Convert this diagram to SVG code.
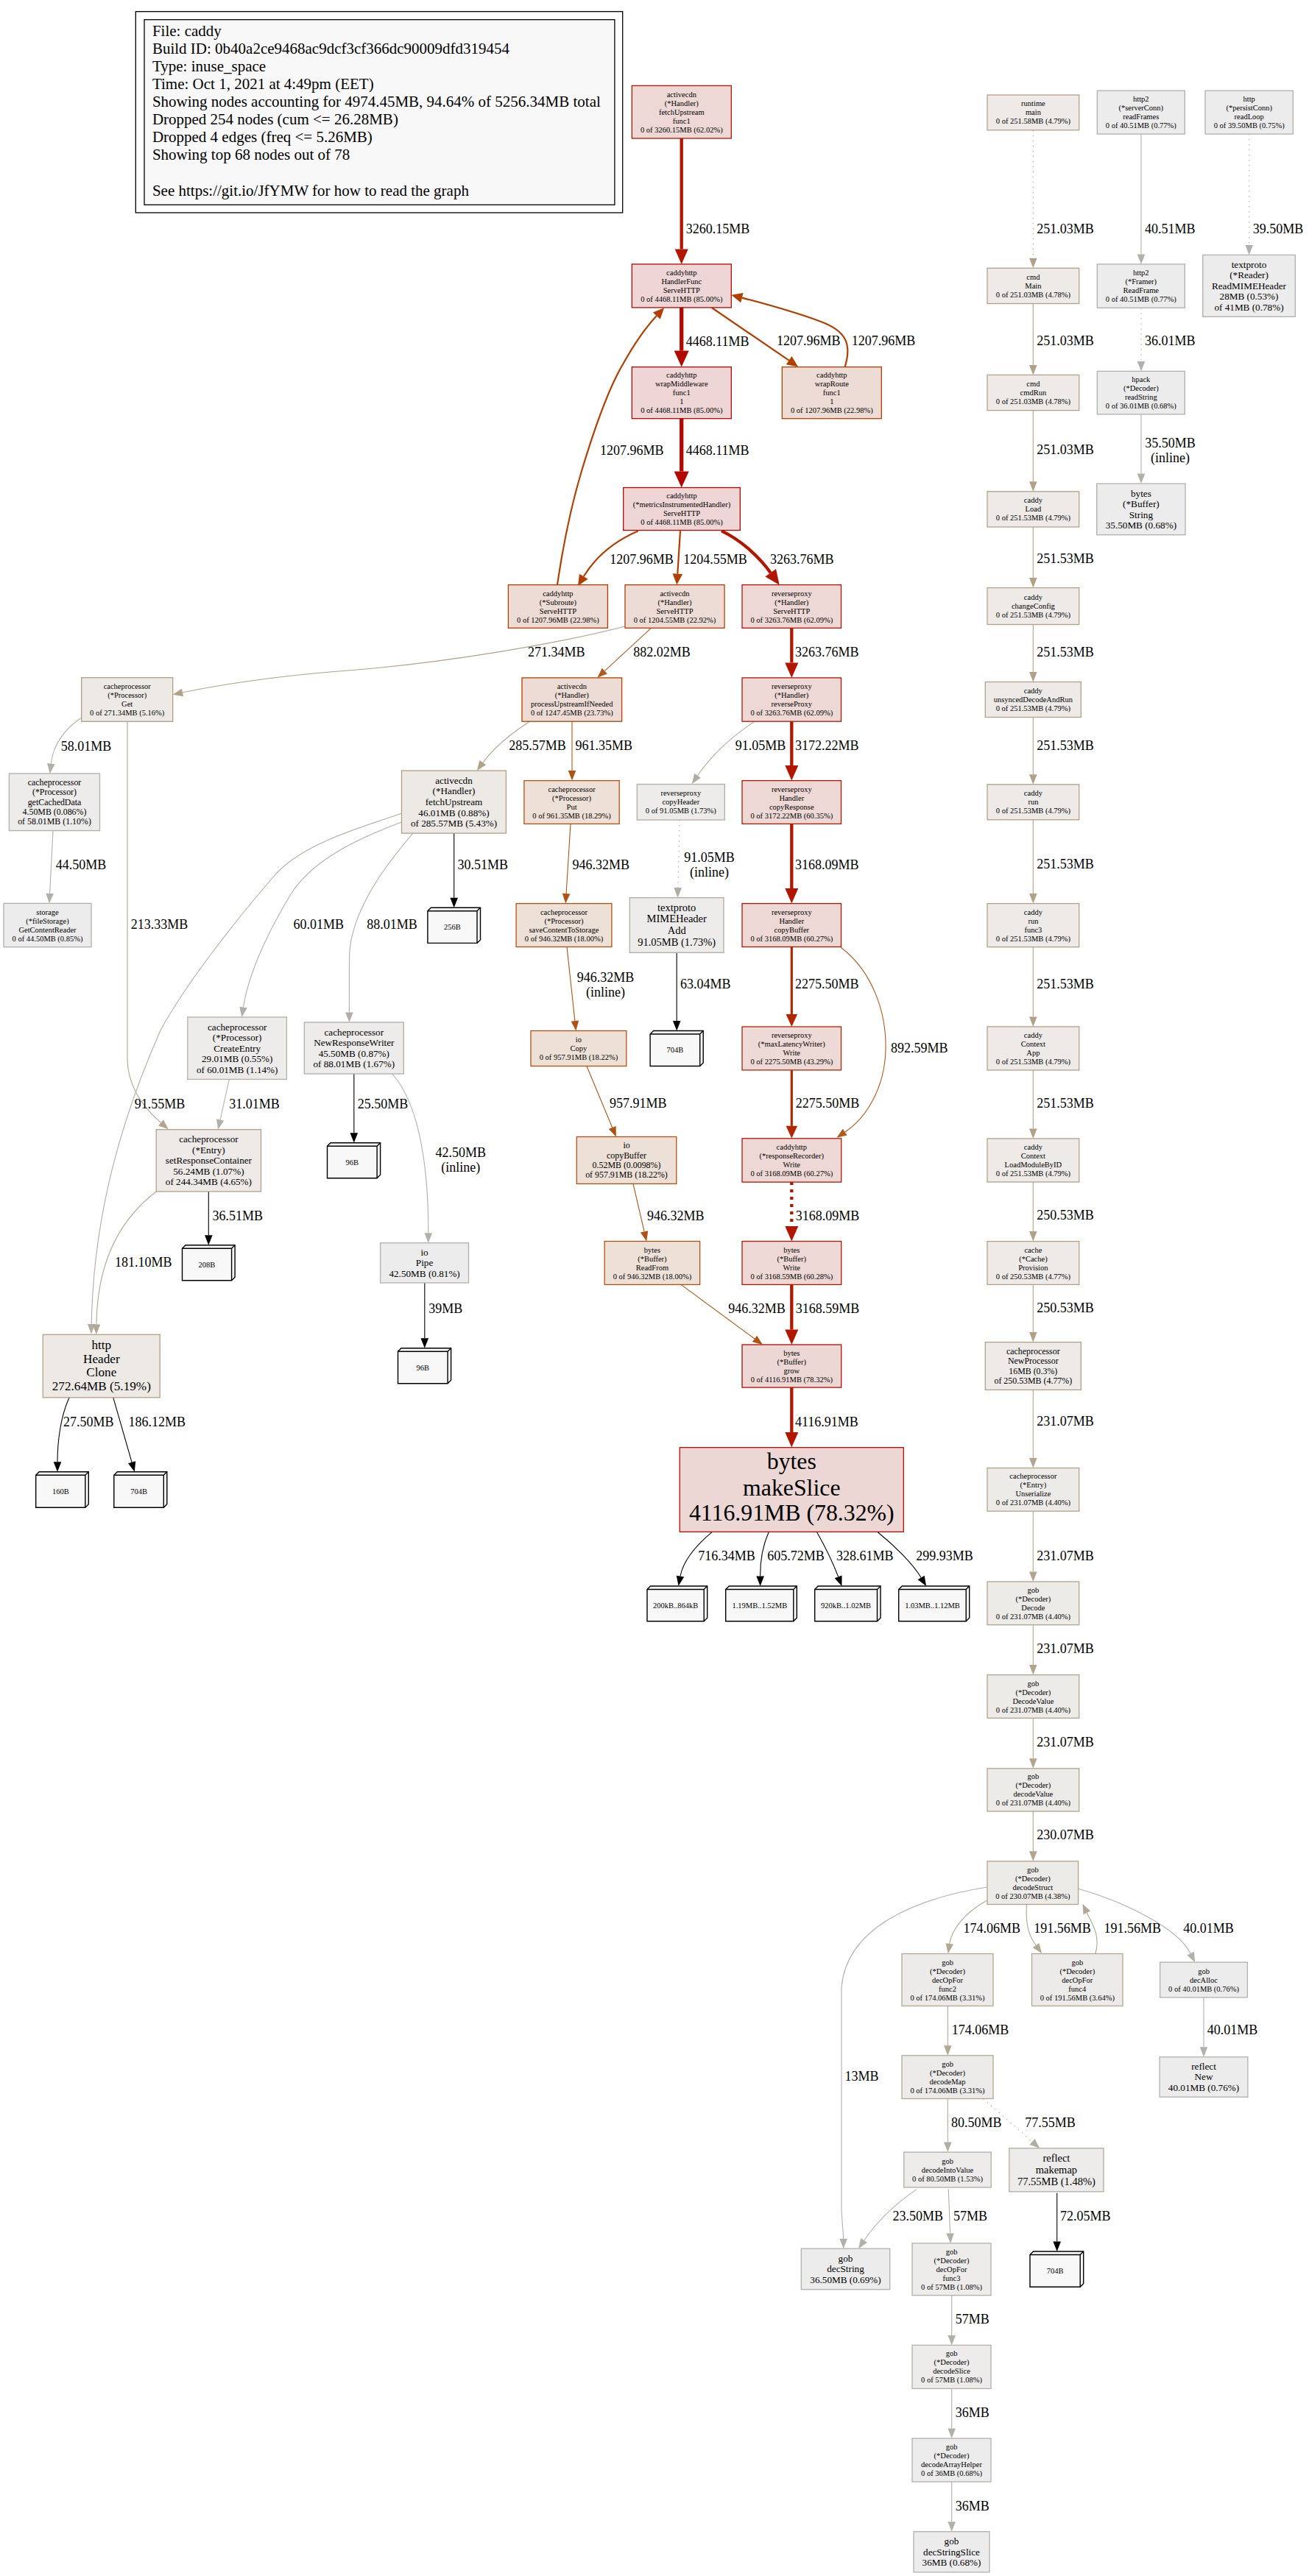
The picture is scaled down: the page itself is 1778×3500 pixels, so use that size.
<svg xmlns="http://www.w3.org/2000/svg" width="1778" height="3500" viewBox="0 0 1778 3500">
<style>
text{font-family:"Liberation Serif","Times New Roman",serif;fill:#000}
.node text{text-anchor:middle}
.t0{font-size:10.5px}.t1{font-size:11.9px}.t2{font-size:13.2px}.t3{font-size:14.5px}.t4{font-size:17.2px}.t5{font-size:31.8px}
.el{font-size:18px}.elm{font-size:18px;text-anchor:middle}.lg{font-size:21px}
rect{stroke-width:1.3}
.c85{fill:#edd6d5;stroke:#b20800}.c78{fill:#edd7d5;stroke:#b20c00}.c62{fill:#edd8d5;stroke:#b21700}
.c43{fill:#edd9d5;stroke:#b22700}.c23{fill:#eddcd5;stroke:#b23f00}.c18{fill:#ede0d7;stroke:#b25211}
.c5{fill:#edeae6;stroke:#b29f84}.c48{fill:#edeae7;stroke:#b2a187}.c44{fill:#edebe7;stroke:#b2a28a}
.c35{fill:#edebe9;stroke:#b2a794}.c17{fill:#edecea;stroke:#b2ada2}.c11{fill:#edeceb;stroke:#b2afa8}
.c07{fill:#edecec;stroke:#b2b0ab}
.leaf path{fill:#f8f8f8;stroke:#000;stroke-width:1.4}
.leaf path.in{fill:none}
.leaf text{font-size:10.5px}
#edges path{fill:none}
.r5{stroke:#b20800;stroke-width:5.3;marker-end:url(#mr5)}
.r4{stroke:#b21600;stroke-width:4.3;marker-end:url(#mr4)}
.r3{stroke:#b22700;stroke-width:3.2;marker-end:url(#mr3)}
.o2{stroke:#b23f00;stroke-width:2.2;marker-end:url(#mo2)}
.o1a{stroke:#b25211;stroke-width:1.1;marker-end:url(#mo1a)}
.o1b{stroke:#b25a1c;stroke-width:1.1;marker-end:url(#mo1b)}
.tA{stroke:#b2a087;stroke-width:1.1;marker-end:url(#mtA)}
.tB{stroke:#b2a48d;stroke-width:1.1;marker-end:url(#mtB)}
.tC{stroke:#b2a793;stroke-width:1.1;marker-end:url(#mtC)}
.gA{stroke:#b2ada3;stroke-width:1.1;marker-end:url(#mgA)}
.gB{stroke:#b2afa8;stroke-width:1.1;marker-end:url(#mgB)}
.gC{stroke:#b2b0ab;stroke-width:1.1;marker-end:url(#mgC)}
.k{stroke:#000;stroke-width:1.1;marker-end:url(#mk)}
.dot{stroke-dasharray:1.5 5.5}
.dotw{stroke-dasharray:4 6}
</style>
<defs>
<marker id="mr5" markerUnits="userSpaceOnUse" markerWidth="22" markerHeight="20" refX="0" refY="10" orient="auto" overflow="visible"><path d="M0,0L22,10L0,20z" fill="#b20800"/></marker>
<marker id="mr4" markerUnits="userSpaceOnUse" markerWidth="20.5" markerHeight="18" refX="0" refY="9" orient="auto" overflow="visible"><path d="M0,0L20.5,9L0,18z" fill="#b21600"/></marker>
<marker id="mr3" markerUnits="userSpaceOnUse" markerWidth="17" markerHeight="15.6" refX="0" refY="7.8" orient="auto" overflow="visible"><path d="M0,0L17,7.8L0,15.6z" fill="#b22700"/></marker>
<marker id="mo2" markerUnits="userSpaceOnUse" markerWidth="15" markerHeight="13.6" refX="0" refY="6.8" orient="auto" overflow="visible"><path d="M0,0L15,6.8L0,13.6z" fill="#b23f00"/></marker>
<marker id="mo1a" markerUnits="userSpaceOnUse" markerWidth="13.5" markerHeight="10.6" refX="0" refY="5.3" orient="auto" overflow="visible"><path d="M0,0L13.5,5.3L0,10.6z" fill="#b25211"/></marker>
<marker id="mo1b" markerUnits="userSpaceOnUse" markerWidth="13.5" markerHeight="10.6" refX="0" refY="5.3" orient="auto" overflow="visible"><path d="M0,0L13.5,5.3L0,10.6z" fill="#b25a1c"/></marker>
<marker id="mtA" markerUnits="userSpaceOnUse" markerWidth="13.5" markerHeight="10.6" refX="0" refY="5.3" orient="auto" overflow="visible"><path d="M0,0L13.5,5.3L0,10.6z" fill="#b2a087"/></marker>
<marker id="mtB" markerUnits="userSpaceOnUse" markerWidth="13.5" markerHeight="10.6" refX="0" refY="5.3" orient="auto" overflow="visible"><path d="M0,0L13.5,5.3L0,10.6z" fill="#b2a48d"/></marker>
<marker id="mtC" markerUnits="userSpaceOnUse" markerWidth="13.5" markerHeight="10.6" refX="0" refY="5.3" orient="auto" overflow="visible"><path d="M0,0L13.5,5.3L0,10.6z" fill="#b2a793"/></marker>
<marker id="mgA" markerUnits="userSpaceOnUse" markerWidth="13.5" markerHeight="10.6" refX="0" refY="5.3" orient="auto" overflow="visible"><path d="M0,0L13.5,5.3L0,10.6z" fill="#b2ada3"/></marker>
<marker id="mgB" markerUnits="userSpaceOnUse" markerWidth="13.5" markerHeight="10.6" refX="0" refY="5.3" orient="auto" overflow="visible"><path d="M0,0L13.5,5.3L0,10.6z" fill="#b2afa8"/></marker>
<marker id="mgC" markerUnits="userSpaceOnUse" markerWidth="13.5" markerHeight="10.6" refX="0" refY="5.3" orient="auto" overflow="visible"><path d="M0,0L13.5,5.3L0,10.6z" fill="#b2b0ab"/></marker>
<marker id="mk" markerUnits="userSpaceOnUse" markerWidth="13.5" markerHeight="10.6" refX="0" refY="5.3" orient="auto" overflow="visible"><path d="M0,0L13.5,5.3L0,10.6z" fill="#000"/></marker>
</defs>
<rect width="1778" height="3500" fill="#fff" stroke="none"/>

<g id="legend">
<rect x="184.3" y="15.7" width="661.4" height="273.3" fill="#fff" stroke="#000" stroke-width="1.3"/>
<rect x="196" y="26.7" width="638.9" height="251.6" fill="#f8f8f8" stroke="#000" stroke-width="1.3"/>
<text class="lg" x="206.9" y="48.5">File: caddy</text>
<text class="lg" x="206.9" y="72.5">Build ID: 0b40a2ce9468ac9dcf3cf366dc90009dfd319454</text>
<text class="lg" x="206.9" y="96.6">Type: inuse_space</text>
<text class="lg" x="206.9" y="120.6">Time: Oct 1, 2021 at 4:49pm (EET)</text>
<text class="lg" x="206.9" y="144.7">Showing nodes accounting for 4974.45MB, 94.64% of 5256.34MB total</text>
<text class="lg" x="206.9" y="168.7">Dropped 254 nodes (cum &lt;= 26.28MB)</text>
<text class="lg" x="206.9" y="192.8">Dropped 4 edges (freq &lt;= 5.26MB)</text>
<text class="lg" x="206.9" y="216.8">Showing top 68 nodes out of 78</text>
<text class="lg" x="206.9" y="265.5">See https://git.io/JfYMW for how to read the graph</text>
</g>

<g id="edges">
<path class="r4" d="M925.7,188L925.7,338.4"/>
<path class="r5" d="M925.7,417.9L925.7,476.6"/>
<path class="r5" d="M925.7,568.7L925.7,640.5"/>
<path class="o2" d="M966.7,418L1071.6,489.7"/>
<path class="o2" d="M1147.7,498.6C1157,468 1150,450 1115,437C1080,424 1040,413 1007.9,404.6"/>
<path class="o2" d="M757,794.6C765,740 775,690 790,640C805,590 825,530 846.7,493.7C860,470 875,447 891.8,429.2"/>
<path class="o2" d="M866.7,721.4C835,735 810,755 792.8,783.2"/>
<path class="o2" d="M924,721.4L920.3,779.6"/>
<path class="r4" d="M980,721.4C1005,733 1030,755 1046.7,778.2"/>
<path class="tA" d="M849,851C760,874 600,902 460,912C370,919 290,932 247.9,941"/>
<path class="o1b" d="M884.4,853.3L821.3,911.7"/>
<path class="r4" d="M1075.3,853.3L1075.3,900.4"/>
<path class="tA" d="M719.4,980.2C695,996 672,1014 655.8,1036.2"/>
<path class="o1a" d="M777,980.2L777,1047.1"/>
<path class="gA" d="M1024.9,980.2C998,998 968,1024 947.5,1053.8"/>
<path class="r4" d="M1075.3,980.2L1075.3,1040.1"/>
<path class="gB" d="M110.7,975C88,990 72,1012 69.3,1037.6"/>
<path class="gC" d="M72,1128.6L67.6,1213.9"/>
<path class="tB" d="M173,980.3L173,1440C174,1478 195,1505 218.5,1525.4"/>
<path class="gA" d="M545.5,1105.3C470,1130 410,1150 376,1186C320,1250 250,1340 218,1400C165,1520 127,1650 124.2,1799"/>
<path class="gB" d="M545.5,1117C470,1145 420,1175 395,1215C365,1265 338,1320 330.5,1368.6"/>
<path class="gA" d="M561,1132C520,1180 476,1240 474.5,1300L474.4,1375.5"/>
<path class="k" d="M616.7,1132.1L616.7,1219.7"/>
<path class="o1a" d="M775,1119.4L769.1,1214.1"/>
<path class="gA dot" d="M923.3,1114L920.8,1206.2"/>
<path class="r4" d="M1075.3,1119.4L1075.3,1207.1"/>
<path class="o1a" d="M770,1286.5L780.9,1387.1"/>
<path class="k" d="M919.2,1294.3L919.2,1387"/>
<path class="r3" d="M1075.3,1286.5L1075.3,1378"/>
<path class="o1b" d="M1142.2,1287.3C1185,1320 1204,1375 1203,1425C1202,1480 1175,1520 1147.7,1538.2"/>
<path class="o1a" d="M796.9,1448.5L831.7,1532"/>
<path class="r3" d="M1075.3,1453.9L1075.3,1529.8"/>
<path class="o1a" d="M860,1608.4L875.1,1673.4"/>
<path class="r4 dotw" d="M1075.3,1606.1L1075.3,1666"/>
<path class="o1a" d="M925,1745.4L1025,1819"/>
<path class="r4" d="M1075.3,1745.4L1075.3,1806.5"/>
<path class="r4" d="M1075.3,1885.1L1075.3,1946.1"/>
<path class="k" d="M967.3,2081.3C945,2100 928,2120 924,2141.6"/>
<path class="k" d="M1044.3,2081.3C1036,2100 1032.5,2120 1032.6,2141.5"/>
<path class="k" d="M1109.3,2081.3C1120,2100 1132,2125 1138.6,2142.3"/>
<path class="k" d="M1191.7,2081.3C1215,2100 1240,2125 1251.1,2143.5"/>
<path class="gC" d="M311.3,1466.5L299.1,1521.5"/>
<path class="k" d="M480.8,1459L480.8,1539.3"/>
<path class="gC" d="M532.7,1459C565,1495 582,1570 581.8,1675.2"/>
<path class="k" d="M283.3,1618.9L283.3,1678.2"/>
<path class="tC" d="M212.2,1619C165,1655 132,1710 131,1799.5"/>
<path class="k" d="M576.8,1743L576.8,1818.3"/>
<path class="k" d="M94.1,1898.8C82,1925 78,1960 78,1986.3"/>
<path class="k" d="M153.8,1898.8L179.1,1986.8"/>
<path class="tA dot" d="M1403.3,176.8L1403.3,350.8"/>
<path class="gC" d="M1550,182.1L1550,345.4"/>
<path class="gC dot" d="M1696.7,182.1L1696.7,332.9"/>
<path class="tA" d="M1403.3,412.5L1403.3,495.9"/>
<path class="gC dot" d="M1550,418.3L1550,490.9"/>
<path class="tA" d="M1403.3,557.6L1403.3,654.3"/>
<path class="gC" d="M1550,562.9L1550,643.6"/>
<path class="tA" d="M1403.3,716L1403.3,785.1"/>
<path class="tA" d="M1403.3,848.5L1403.3,913"/>
<path class="tA" d="M1403.3,974.5L1403.3,1052.3"/>
<path class="tA" d="M1403.3,1113.8L1403.3,1214.1"/>
<path class="tA" d="M1403.3,1286.7L1403.3,1381.4"/>
<path class="tA" d="M1403.3,1454L1403.3,1533.5"/>
<path class="tA" d="M1403.3,1606L1403.3,1673.1"/>
<path class="tA" d="M1403.3,1745.4L1403.3,1810.1"/>
<path class="tB" d="M1403.3,1888.4L1403.3,1981"/>
<path class="tB" d="M1403.3,2053.2L1403.3,2135.5"/>
<path class="tB" d="M1403.3,2207.7L1403.3,2262.1"/>
<path class="tB" d="M1403.3,2334.4L1403.3,2389.3"/>
<path class="tB" d="M1403.3,2461L1403.3,2515.3"/>
<path class="tC" d="M1340.2,2582.2C1312,2598 1293,2620 1289.8,2641"/>
<path class="tC" d="M1394.5,2587.5C1393,2612 1396,2628 1407.1,2643.2"/>
<path class="tC" d="M1487.8,2654.5C1495,2630 1484,2615 1476.3,2598.9"/>
<path class="gC" d="M1464.6,2566.3C1530,2585 1600,2620 1617.1,2654.1"/>
<path class="gC" d="M1635,2713.9L1635,2781.3"/>
<path class="tC" d="M1287.3,2725.5L1287.3,2779.3"/>
<path class="gA" d="M1287.3,2851.5L1287.3,2910.6"/>
<path class="gA dot" d="M1335.5,2851.5L1402,2909.9"/>
<path class="gC" d="M1341.1,2564C1240,2580 1150,2620 1143,2700L1143,3000C1143.5,3020 1145.5,3030 1145.6,3041.7"/>
<path class="gC" d="M1245,2974.6C1215,2995 1190,3020 1173.6,3044"/>
<path class="gB" d="M1288.3,2974.6L1290.6,3034.4"/>
<path class="k" d="M1435.7,2979.8L1435.7,3045.5"/>
<path class="gB" d="M1292.7,3118.7L1292.7,3172.9"/>
<path class="gC" d="M1292.7,3245.4L1292.7,3299.5"/>
<path class="gC" d="M1292.7,3372L1292.7,3426.2"/>
</g>

<g id="edge-labels">
<text class="el" x="931.7" y="317">3260.15MB</text>
<text class="el" x="931.7" y="469.7">4468.11MB</text>
<text class="el" x="1055" y="469.3">1207.96MB</text>
<text class="el" x="1156.7" y="469.3">1207.96MB</text>
<text class="el" x="815" y="618.3">1207.96MB</text>
<text class="el" x="931.7" y="618.3">4468.11MB</text>
<text class="el" x="828.3" y="765.6">1207.96MB</text>
<text class="el" x="928.3" y="765.6">1204.55MB</text>
<text class="el" x="1046" y="765.6">3263.76MB</text>
<text class="el" x="716.9" y="892.3">271.34MB</text>
<text class="el" x="860.3" y="892.3">882.02MB</text>
<text class="el" x="1080" y="892.3">3263.76MB</text>
<text class="el" x="691.2" y="1018.8">285.57MB</text>
<text class="el" x="781.6" y="1018.8">961.35MB</text>
<text class="el" x="998.7" y="1018.8">91.05MB</text>
<text class="el" x="1080" y="1018.8">3172.22MB</text>
<text class="el" x="82.7" y="1019.5">58.01MB</text>
<text class="el" x="75.8" y="1181.3">44.50MB</text>
<text class="el" x="621.6" y="1180.8">30.51MB</text>
<text class="el" x="777.4" y="1180.8">946.32MB</text>
<text class="elm" x="963.4" y="1171.3">91.05MB</text>
<text class="elm" x="963.4" y="1191.3">(inline)</text>
<text class="el" x="1080" y="1180.8">3168.09MB</text>
<text class="el" x="177.7" y="1262.3">213.33MB</text>
<text class="el" x="398.6" y="1262.3">60.01MB</text>
<text class="el" x="498.2" y="1262.3">88.01MB</text>
<text class="elm" x="822.5" y="1333.8">946.32MB</text>
<text class="elm" x="822.5" y="1353.7">(inline)</text>
<text class="el" x="924.1" y="1343.3">63.04MB</text>
<text class="el" x="1080" y="1343.3">2275.50MB</text>
<text class="el" x="1210" y="1429.5">892.59MB</text>
<text class="el" x="828" y="1505.3">957.91MB</text>
<text class="el" x="1080.7" y="1505.3">2275.50MB</text>
<text class="el" x="182.8" y="1506.1">91.55MB</text>
<text class="el" x="311.3" y="1506.1">31.01MB</text>
<text class="el" x="485.8" y="1506.1">25.50MB</text>
<text class="elm" x="625.7" y="1571.7">42.50MB</text>
<text class="elm" x="625.7" y="1591.5">(inline)</text>
<text class="el" x="288.4" y="1657.6">36.51MB</text>
<text class="el" x="879" y="1657.6">946.32MB</text>
<text class="el" x="1080.7" y="1657.6">3168.09MB</text>
<text class="el" x="156.1" y="1721.1">181.10MB</text>
<text class="el" x="582.3" y="1783.9">39MB</text>
<text class="el" x="989.2" y="1784.3">946.32MB</text>
<text class="el" x="1080.7" y="1784.3">3168.59MB</text>
<text class="el" x="1080" y="1937.8">4116.91MB</text>
<text class="el" x="85.9" y="1937.5">27.50MB</text>
<text class="el" x="174.5" y="1937.5">186.12MB</text>
<text class="el" x="948.3" y="2119.6">716.34MB</text>
<text class="el" x="1042.3" y="2119.6">605.72MB</text>
<text class="el" x="1136" y="2119.6">328.61MB</text>
<text class="el" x="1244.3" y="2119.6">299.93MB</text>
<text class="el" x="1408.3" y="317">251.03MB</text>
<text class="el" x="1555" y="317">40.51MB</text>
<text class="el" x="1701.7" y="317">39.50MB</text>
<text class="el" x="1408.3" y="469.3">251.03MB</text>
<text class="el" x="1555" y="469.3">36.01MB</text>
<text class="el" x="1408.3" y="617.3">251.03MB</text>
<text class="elm" x="1589.6" y="607.6">35.50MB</text>
<text class="elm" x="1589.6" y="627.7">(inline)</text>
<text class="el" x="1408.3" y="764.7">251.53MB</text>
<text class="el" x="1408.3" y="891.5">251.53MB</text>
<text class="el" x="1408.3" y="1018.5">251.53MB</text>
<text class="el" x="1408.3" y="1180.3">251.53MB</text>
<text class="el" x="1408.3" y="1342.5">251.53MB</text>
<text class="el" x="1408.3" y="1504.8">251.53MB</text>
<text class="el" x="1408.3" y="1656.6">250.53MB</text>
<text class="el" x="1408.3" y="1783.3">250.53MB</text>
<text class="el" x="1408.3" y="1936.5">231.07MB</text>
<text class="el" x="1408.3" y="2119.5">231.07MB</text>
<text class="el" x="1408.3" y="2246.1">231.07MB</text>
<text class="el" x="1408.3" y="2372.8">231.07MB</text>
<text class="el" x="1408.3" y="2498.8">230.07MB</text>
<text class="el" x="1308.6" y="2626.3">174.06MB</text>
<text class="el" x="1404.2" y="2626.3">191.56MB</text>
<text class="el" x="1499.4" y="2626.3">191.56MB</text>
<text class="el" x="1607.2" y="2626.3">40.01MB</text>
<text class="el" x="1292.8" y="2764.3">174.06MB</text>
<text class="el" x="1639.7" y="2764.3">40.01MB</text>
<text class="el" x="1147.5" y="2827.3">13MB</text>
<text class="el" x="1291.9" y="2890.3">80.50MB</text>
<text class="el" x="1392.2" y="2890.3">77.55MB</text>
<text class="el" x="1212.4" y="3017.3">23.50MB</text>
<text class="el" x="1295" y="3017.3">57MB</text>
<text class="el" x="1440" y="3017.3">72.05MB</text>
<text class="el" x="1297.7" y="3157.3">57MB</text>
<text class="el" x="1297.7" y="3284.3">36MB</text>
<text class="el" x="1297.7" y="3410.9">36MB</text>
</g>

<g id="n_fetchUpstream_func1" class="node"><rect class="c62" x="858.3" y="116.4" width="135" height="71.6"/><text class="t0"><tspan x="925.8" y="131.7">activecdn</tspan><tspan x="925.8" y="143.7">(*Handler)</tspan><tspan x="925.8" y="155.7">fetchUpstream</tspan><tspan x="925.8" y="167.7">func1</tspan><tspan x="925.8" y="179.7">0 of 3260.15MB (62.02%)</tspan></text></g>
<g id="n_HandlerFunc" class="node"><rect class="c85" x="858.3" y="358.9" width="135" height="59"/><text class="t0"><tspan x="925.8" y="373.9">caddyhttp</tspan><tspan x="925.8" y="385.9">HandlerFunc</tspan><tspan x="925.8" y="397.9">ServeHTTP</tspan><tspan x="925.8" y="409.9">0 of 4468.11MB (85.00%)</tspan></text></g>
<g id="n_wrapMiddleware" class="node"><rect class="c85" x="858.3" y="498.6" width="135" height="70.1"/><text class="t0"><tspan x="925.8" y="513.2">caddyhttp</tspan><tspan x="925.8" y="525.2">wrapMiddleware</tspan><tspan x="925.8" y="537.2">func1</tspan><tspan x="925.8" y="549.2">1</tspan><tspan x="925.8" y="561.2">0 of 4468.11MB (85.00%)</tspan></text></g>
<g id="n_wrapRoute" class="node"><rect class="c23" x="1062.3" y="498.6" width="135" height="70.1"/><text class="t0"><tspan x="1129.8" y="513.2">caddyhttp</tspan><tspan x="1129.8" y="525.2">wrapRoute</tspan><tspan x="1129.8" y="537.2">func1</tspan><tspan x="1129.8" y="549.2">1</tspan><tspan x="1129.8" y="561.2">0 of 1207.96MB (22.98%)</tspan></text></g>
<g id="n_metrics" class="node"><rect class="c85" x="846.7" y="662.5" width="158.6" height="58"/><text class="t0"><tspan x="926" y="677">caddyhttp</tspan><tspan x="926" y="689">(*metricsInstrumentedHandler)</tspan><tspan x="926" y="701">ServeHTTP</tspan><tspan x="926" y="713">0 of 4468.11MB (85.00%)</tspan></text></g>
<g id="n_Subroute" class="node"><rect class="c23" x="690.4" y="794.6" width="135" height="58.7"/><text class="t0"><tspan x="757.9" y="809.5">caddyhttp</tspan><tspan x="757.9" y="821.5">(*Subroute)</tspan><tspan x="757.9" y="833.5">ServeHTTP</tspan><tspan x="757.9" y="845.5">0 of 1207.96MB (22.98%)</tspan></text></g>
<g id="n_activecdn_ServeHTTP" class="node"><rect class="c23" x="849" y="794.6" width="135" height="58.7"/><text class="t0"><tspan x="916.5" y="809.5">activecdn</tspan><tspan x="916.5" y="821.5">(*Handler)</tspan><tspan x="916.5" y="833.5">ServeHTTP</tspan><tspan x="916.5" y="845.5">0 of 1204.55MB (22.92%)</tspan></text></g>
<g id="n_rp_ServeHTTP" class="node"><rect class="c62" x="1008" y="794.6" width="134.5" height="58.7"/><text class="t0"><tspan x="1075.3" y="809.5">reverseproxy</tspan><tspan x="1075.3" y="821.5">(*Handler)</tspan><tspan x="1075.3" y="833.5">ServeHTTP</tspan><tspan x="1075.3" y="845.5">0 of 3263.76MB (62.09%)</tspan></text></g>
<g id="n_processUpstream" class="node"><rect class="c23" x="709" y="920.9" width="135.6" height="59.3"/><text class="t0"><tspan x="776.8" y="936">activecdn</tspan><tspan x="776.8" y="948">(*Handler)</tspan><tspan x="776.8" y="960">processUpstreamIfNeeded</tspan><tspan x="776.8" y="972">0 of 1247.45MB (23.73%)</tspan></text></g>
<g id="n_reverseProxy" class="node"><rect class="c62" x="1008" y="920.9" width="134.5" height="59.3"/><text class="t0"><tspan x="1075.3" y="936">reverseproxy</tspan><tspan x="1075.3" y="948">(*Handler)</tspan><tspan x="1075.3" y="960">reverseProxy</tspan><tspan x="1075.3" y="972">0 of 3263.76MB (62.09%)</tspan></text></g>
<g id="n_Get" class="node"><rect class="c5" x="110.7" y="920.7" width="124" height="59.6"/><text class="t0"><tspan x="172.7" y="936">cacheprocessor</tspan><tspan x="172.7" y="948">(*Processor)</tspan><tspan x="172.7" y="960">Get</tspan><tspan x="172.7" y="972">0 of 271.34MB (5.16%)</tspan></text></g>
<g id="n_getCachedData" class="node"><rect class="c11" x="12.4" y="1051" width="123.1" height="77.6"/><text class="t1"><tspan x="74" y="1067.1">cacheprocessor</tspan><tspan x="74" y="1080.4">(*Processor)</tspan><tspan x="74" y="1093.7">getCachedData</tspan><tspan x="74" y="1107">4.50MB (0.086%)</tspan><tspan x="74" y="1120.3">of 58.01MB (1.10%)</tspan></text></g>
<g id="n_GetContentReader" class="node"><rect class="c07" x="5" y="1227.4" width="119" height="59.3"/><text class="t0"><tspan x="64.5" y="1242.6">storage</tspan><tspan x="64.5" y="1254.6">(*fileStorage)</tspan><tspan x="64.5" y="1266.6">GetContentReader</tspan><tspan x="64.5" y="1278.6">0 of 44.50MB (0.85%)</tspan></text></g>
<g id="n_fetchUpstream" class="node"><rect class="c5" x="545.5" y="1047.1" width="141.9" height="85"/><text class="t2"><tspan x="616.5" y="1064.8">activecdn</tspan><tspan x="616.5" y="1079.4">(*Handler)</tspan><tspan x="616.5" y="1094">fetchUpstream</tspan><tspan x="616.5" y="1108.6">46.01MB (0.88%)</tspan><tspan x="616.5" y="1123.2">of 285.57MB (5.43%)</tspan></text></g>
<g id="n_Put" class="node"><rect class="c18" x="711.9" y="1060.6" width="129.3" height="58.8"/><text class="t0"><tspan x="776.6" y="1075.5">cacheprocessor</tspan><tspan x="776.6" y="1087.5">(*Processor)</tspan><tspan x="776.6" y="1099.5">Put</tspan><tspan x="776.6" y="1111.5">0 of 961.35MB (18.29%)</tspan></text></g>
<g id="n_copyHeader" class="node"><rect class="c17" x="865.3" y="1065.5" width="119" height="48.5"/><text class="t0"><tspan x="924.8" y="1081.3">reverseproxy</tspan><tspan x="924.8" y="1093.3">copyHeader</tspan><tspan x="924.8" y="1105.3">0 of 91.05MB (1.73%)</tspan></text></g>
<g id="n_copyResponse" class="node"><rect class="c62" x="1008" y="1060.6" width="134.5" height="58.8"/><text class="t0"><tspan x="1075.3" y="1075.5">reverseproxy</tspan><tspan x="1075.3" y="1087.5">Handler</tspan><tspan x="1075.3" y="1099.5">copyResponse</tspan><tspan x="1075.3" y="1111.5">0 of 3172.22MB (60.35%)</tspan></text></g>
<g id="n_leaf_256B" class="leaf"><path d="M580.9,1237.7L585.4,1233.2L652.5,1233.2L652.5,1276.9L648,1281.4L580.9,1281.4Z"/><path class="in" d="M580.9,1237.7L648,1237.7L648,1281.4M648,1237.7L652.5,1233.2"/><text x="614.5" y="1263" text-anchor="middle">256B</text></g>
<g id="n_saveContent" class="node"><rect class="c18" x="701.1" y="1227.6" width="129.8" height="58.9"/><text class="t0"><tspan x="766" y="1242.6">cacheprocessor</tspan><tspan x="766" y="1254.6">(*Processor)</tspan><tspan x="766" y="1266.6">saveContentToStorage</tspan><tspan x="766" y="1278.6">0 of 946.32MB (18.00%)</tspan></text></g>
<g id="n_MIMEHeaderAdd" class="node"><rect class="c17" x="855.3" y="1219.7" width="127.7" height="74.6"/><text class="t3"><tspan x="919.2" y="1237.5">textproto</tspan><tspan x="919.2" y="1253.3">MIMEHeader</tspan><tspan x="919.2" y="1269.1">Add</tspan><tspan x="919.2" y="1285">91.05MB (1.73%)</tspan></text></g>
<g id="n_rp_copyBuffer" class="node"><rect class="c62" x="1008" y="1227.6" width="134.5" height="58.9"/><text class="t0"><tspan x="1075.3" y="1242.6">reverseproxy</tspan><tspan x="1075.3" y="1254.6">Handler</tspan><tspan x="1075.3" y="1266.6">copyBuffer</tspan><tspan x="1075.3" y="1278.6">0 of 3168.09MB (60.27%)</tspan></text></g>
<g id="n_CreateEntry" class="node"><rect class="c11" x="254.9" y="1382" width="134.5" height="84.5"/><text class="t2"><tspan x="322.2" y="1399.9">cacheprocessor</tspan><tspan x="322.2" y="1414.3">(*Processor)</tspan><tspan x="322.2" y="1428.7">CreateEntry</tspan><tspan x="322.2" y="1443.1">29.01MB (0.55%)</tspan><tspan x="322.2" y="1457.5">of 60.01MB (1.14%)</tspan></text></g>
<g id="n_NewResponseWriter" class="node"><rect class="c17" x="413.3" y="1389" width="135" height="70"/><text class="t2"><tspan x="480.8" y="1406.8">cacheprocessor</tspan><tspan x="480.8" y="1421.2">NewResponseWriter</tspan><tspan x="480.8" y="1435.6">45.50MB (0.87%)</tspan><tspan x="480.8" y="1450">of 88.01MB (1.67%)</tspan></text></g>
<g id="n_ioCopy" class="node"><rect class="c18" x="721" y="1400.5" width="129.8" height="48"/><text class="t0"><tspan x="785.9" y="1416">io</tspan><tspan x="785.9" y="1428">Copy</tspan><tspan x="785.9" y="1440">0 of 957.91MB (18.22%)</tspan></text></g>
<g id="n_leaf_704B_a" class="leaf"><path d="M883.1,1405L887.6,1400.5L955.2,1400.5L955.2,1444L950.7,1448.5L883.1,1448.5Z"/><path class="in" d="M883.1,1405L950.7,1405L950.7,1448.5M950.7,1405L955.2,1400.5"/><text x="916.9" y="1430.3" text-anchor="middle">704B</text></g>
<g id="n_maxLatencyWriter" class="node"><rect class="c43" x="1008" y="1395" width="134.5" height="58.9"/><text class="t0"><tspan x="1075.3" y="1410">reverseproxy</tspan><tspan x="1075.3" y="1422">(*maxLatencyWriter)</tspan><tspan x="1075.3" y="1434">Write</tspan><tspan x="1075.3" y="1446">0 of 2275.50MB (43.29%)</tspan></text></g>
<g id="n_setResponseContainer" class="node"><rect class="c48" x="212.2" y="1534.7" width="142.3" height="84.2"/><text class="t2"><tspan x="283.4" y="1552.2">cacheprocessor</tspan><tspan x="283.4" y="1566.7">(*Entry)</tspan><tspan x="283.4" y="1581.2">setResponseContainer</tspan><tspan x="283.4" y="1595.7">56.24MB (1.07%)</tspan><tspan x="283.4" y="1610.2">of 244.34MB (4.65%)</tspan></text></g>
<g id="n_leaf_96B_a" class="leaf"><path d="M444.5,1557.3L449,1552.8L516.6,1552.8L516.6,1596.3L512.1,1600.8L444.5,1600.8Z"/><path class="in" d="M444.5,1557.3L512.1,1557.3L512.1,1600.8M512.1,1557.3L516.6,1552.8"/><text x="478.3" y="1582.6" text-anchor="middle">96B</text></g>
<g id="n_io_copyBuffer" class="node"><rect class="c18" x="783.3" y="1544.5" width="135.5" height="63.9"/><text class="t1"><tspan x="851" y="1560.4">io</tspan><tspan x="851" y="1573.7">copyBuffer</tspan><tspan x="851" y="1587">0.52MB (0.0098%)</tspan><tspan x="851" y="1600.3">of 957.91MB (18.22%)</tspan></text></g>
<g id="n_responseRecorder" class="node"><rect class="c62" x="1008" y="1546.8" width="134.7" height="59.3"/><text class="t0"><tspan x="1075.3" y="1562">caddyhttp</tspan><tspan x="1075.3" y="1574">(*responseRecorder)</tspan><tspan x="1075.3" y="1586">Write</tspan><tspan x="1075.3" y="1598">0 of 3168.09MB (60.27%)</tspan></text></g>
<g id="n_leaf_208B" class="leaf"><path d="M247.5,1696.2L252,1691.7L319.1,1691.7L319.1,1735.2L314.6,1739.7L247.5,1739.7Z"/><path class="in" d="M247.5,1696.2L314.6,1696.2L314.6,1739.7M314.6,1696.2L319.1,1691.7"/><text x="281" y="1721.5" text-anchor="middle">208B</text></g>
<g id="n_ioPipe" class="node"><rect class="c07" x="516.6" y="1688.7" width="119.9" height="54.3"/><text class="t2"><tspan x="576.6" y="1706">io</tspan><tspan x="576.6" y="1720.3">Pipe</tspan><tspan x="576.6" y="1734.6">42.50MB (0.81%)</tspan></text></g>
<g id="n_ReadFrom" class="node"><rect class="c18" x="821.2" y="1686.5" width="129.4" height="58.9"/><text class="t0"><tspan x="885.9" y="1701.5">bytes</tspan><tspan x="885.9" y="1713.5">(*Buffer)</tspan><tspan x="885.9" y="1725.5">ReadFrom</tspan><tspan x="885.9" y="1737.5">0 of 946.32MB (18.00%)</tspan></text></g>
<g id="n_BufferWrite" class="node"><rect class="c62" x="1008" y="1686.5" width="134.7" height="58.9"/><text class="t0"><tspan x="1075.3" y="1701.5">bytes</tspan><tspan x="1075.3" y="1713.5">(*Buffer)</tspan><tspan x="1075.3" y="1725.5">Write</tspan><tspan x="1075.3" y="1737.5">0 of 3168.59MB (60.28%)</tspan></text></g>
<g id="n_HeaderClone" class="node"><rect class="c5" x="58.3" y="1813.3" width="158.9" height="85.5"/><text class="t4"><tspan x="137.8" y="1833">http</tspan><tspan x="137.8" y="1851.5">Header</tspan><tspan x="137.8" y="1870">Clone</tspan><tspan x="137.8" y="1888.5">272.64MB (5.19%)</tspan></text></g>
<g id="n_leaf_96B_b" class="leaf"><path d="M540.5,1836.3L545,1831.8L612.6,1831.8L612.6,1875.3L608.1,1879.8L540.5,1879.8Z"/><path class="in" d="M540.5,1836.3L608.1,1836.3L608.1,1879.8M608.1,1836.3L612.6,1831.8"/><text x="574.3" y="1861.6" text-anchor="middle">96B</text></g>
<g id="n_grow" class="node"><rect class="c78" x="1008" y="1827" width="134.7" height="58.1"/><text class="t0"><tspan x="1075.3" y="1841.6">bytes</tspan><tspan x="1075.3" y="1853.6">(*Buffer)</tspan><tspan x="1075.3" y="1865.6">grow</tspan><tspan x="1075.3" y="1877.6">0 of 4116.91MB (78.32%)</tspan></text></g>
<g id="n_makeSlice" class="node"><rect class="c78" x="923.3" y="1966.7" width="304" height="114.6"/><text class="t5"><tspan x="1075.3" y="1996">bytes</tspan><tspan x="1075.3" y="2031.5">makeSlice</tspan><tspan x="1075.3" y="2066">4116.91MB (78.32%)</tspan></text></g>
<g id="n_leaf_200kB" class="leaf"><path d="M879,2159.5L883.5,2155L960.7,2155L960.7,2198.2L956.2,2202.7L879,2202.7Z"/><path class="in" d="M879,2159.5L956.2,2159.5L956.2,2202.7M956.2,2159.5L960.7,2155"/><text x="917.6" y="2184.6" text-anchor="middle">200kB..864kB</text></g>
<g id="n_leaf_119MB" class="leaf"><path d="M985.7,2159.5L990.2,2155L1082.3,2155L1082.3,2198.2L1077.8,2202.7L985.7,2202.7Z"/><path class="in" d="M985.7,2159.5L1077.8,2159.5L1077.8,2202.7M1077.8,2159.5L1082.3,2155"/><text x="1031.8" y="2184.6" text-anchor="middle">1.19MB..1.52MB</text></g>
<g id="n_leaf_920kB" class="leaf"><path d="M1106.7,2159.5L1111.2,2155L1196,2155L1196,2198.2L1191.5,2202.7L1106.7,2202.7Z"/><path class="in" d="M1106.7,2159.5L1191.5,2159.5L1191.5,2202.7M1191.5,2159.5L1196,2155"/><text x="1149.1" y="2184.6" text-anchor="middle">920kB..1.02MB</text></g>
<g id="n_leaf_103MB" class="leaf"><path d="M1220.7,2159.5L1225.2,2155L1316.7,2155L1316.7,2198.2L1312.2,2202.7L1220.7,2202.7Z"/><path class="in" d="M1220.7,2159.5L1312.2,2159.5L1312.2,2202.7M1312.2,2159.5L1316.7,2155"/><text x="1266.5" y="2184.6" text-anchor="middle">1.03MB..1.12MB</text></g>
<g id="n_leaf_160B" class="leaf"><path d="M48.7,2004.3L53.2,1999.8L120.3,1999.8L120.3,2043.7L115.8,2048.2L48.7,2048.2Z"/><path class="in" d="M48.7,2004.3L115.8,2004.3L115.8,2048.2M115.8,2004.3L120.3,1999.8"/><text x="82.3" y="2029.8" text-anchor="middle">160B</text></g>
<g id="n_leaf_704B_b" class="leaf"><path d="M154.8,2004.3L159.3,1999.8L226.8,1999.8L226.8,2043.7L222.3,2048.2L154.8,2048.2Z"/><path class="in" d="M154.8,2004.3L222.3,2004.3L222.3,2048.2M222.3,2004.3L226.8,1999.8"/><text x="188.6" y="2029.8" text-anchor="middle">704B</text></g>

<g id="n_runtime_main" class="node"><rect class="c48" x="1341" y="129" width="124.7" height="47.8"/><text class="t0"><tspan x="1403.4" y="144.4">runtime</tspan><tspan x="1403.4" y="156.4">main</tspan><tspan x="1403.4" y="168.4">0 of 251.58MB (4.79%)</tspan></text></g>
<g id="n_readFrames" class="node"><rect class="c07" x="1490.3" y="123.2" width="119" height="58.9"/><text class="t0"><tspan x="1549.8" y="138.2">http2</tspan><tspan x="1549.8" y="150.2">(*serverConn)</tspan><tspan x="1549.8" y="162.2">readFrames</tspan><tspan x="1549.8" y="174.2">0 of 40.51MB (0.77%)</tspan></text></g>
<g id="n_readLoop" class="node"><rect class="c07" x="1637" y="123.2" width="119.3" height="58.9"/><text class="t0"><tspan x="1696.7" y="138.2">http</tspan><tspan x="1696.7" y="150.2">(*persistConn)</tspan><tspan x="1696.7" y="162.2">readLoop</tspan><tspan x="1696.7" y="174.2">0 of 39.50MB (0.75%)</tspan></text></g>
<g id="n_cmd_Main" class="node"><rect class="c48" x="1341" y="364.3" width="124.7" height="48.2"/><text class="t0"><tspan x="1403.4" y="379.9">cmd</tspan><tspan x="1403.4" y="391.9">Main</tspan><tspan x="1403.4" y="403.9">0 of 251.03MB (4.78%)</tspan></text></g>
<g id="n_ReadFrame" class="node"><rect class="c07" x="1490.3" y="358.9" width="119" height="59.4"/><text class="t0"><tspan x="1549.8" y="374.1">http2</tspan><tspan x="1549.8" y="386.1">(*Framer)</tspan><tspan x="1549.8" y="398.1">ReadFrame</tspan><tspan x="1549.8" y="410.1">0 of 40.51MB (0.77%)</tspan></text></g>
<g id="n_ReadMIMEHeader" class="node"><rect class="c07" x="1633.7" y="346.4" width="125.6" height="83.9"/><text class="t2"><tspan x="1696.5" y="364">textproto</tspan><tspan x="1696.5" y="378.4">(*Reader)</tspan><tspan x="1696.5" y="392.8">ReadMIMEHeader</tspan><tspan x="1696.5" y="407.2">28MB (0.53%)</tspan><tspan x="1696.5" y="421.6">of 41MB (0.78%)</tspan></text></g>
<g id="n_cmdRun" class="node"><rect class="c48" x="1341" y="509.4" width="124.7" height="48.2"/><text class="t0"><tspan x="1403.4" y="525">cmd</tspan><tspan x="1403.4" y="537">cmdRun</tspan><tspan x="1403.4" y="549">0 of 251.03MB (4.78%)</tspan></text></g>
<g id="n_readString" class="node"><rect class="c07" x="1490.3" y="504.4" width="119" height="58.5"/><text class="t0"><tspan x="1549.8" y="519.2">hpack</tspan><tspan x="1549.8" y="531.2">(*Decoder)</tspan><tspan x="1549.8" y="543.2">readString</tspan><tspan x="1549.8" y="555.2">0 of 36.01MB (0.68%)</tspan></text></g>
<g id="n_caddy_Load" class="node"><rect class="c48" x="1341" y="667.8" width="124.7" height="48.2"/><text class="t0"><tspan x="1403.4" y="683.4">caddy</tspan><tspan x="1403.4" y="695.4">Load</tspan><tspan x="1403.4" y="707.4">0 of 251.53MB (4.79%)</tspan></text></g>
<g id="n_BufferString" class="node"><rect class="c07" x="1489.7" y="657.1" width="120.3" height="69.6"/><text class="t2"><tspan x="1549.9" y="674.5">bytes</tspan><tspan x="1549.9" y="689">(*Buffer)</tspan><tspan x="1549.9" y="703.5">String</tspan><tspan x="1549.9" y="718">35.50MB (0.68%)</tspan></text></g>
<g id="n_changeConfig" class="node"><rect class="c48" x="1341" y="798.6" width="124.7" height="49.9"/><text class="t0"><tspan x="1403.4" y="815.1">caddy</tspan><tspan x="1403.4" y="827.1">changeConfig</tspan><tspan x="1403.4" y="839.1">0 of 251.53MB (4.79%)</tspan></text></g>
<g id="n_unsyncedDecodeAndRun" class="node"><rect class="c48" x="1338.3" y="926.5" width="130" height="48"/><text class="t0"><tspan x="1403.3" y="942">caddy</tspan><tspan x="1403.3" y="954">unsyncedDecodeAndRun</tspan><tspan x="1403.3" y="966">0 of 251.53MB (4.79%)</tspan></text></g>
<g id="n_caddy_run" class="node"><rect class="c48" x="1341" y="1065.8" width="124.7" height="48"/><text class="t0"><tspan x="1403.4" y="1081.3">caddy</tspan><tspan x="1403.4" y="1093.3">run</tspan><tspan x="1403.4" y="1105.3">0 of 251.53MB (4.79%)</tspan></text></g>
<g id="n_caddy_run_func3" class="node"><rect class="c48" x="1341" y="1227.6" width="124.7" height="59.1"/><text class="t0"><tspan x="1403.4" y="1242.7">caddy</tspan><tspan x="1403.4" y="1254.7">run</tspan><tspan x="1403.4" y="1266.7">func3</tspan><tspan x="1403.4" y="1278.7">0 of 251.53MB (4.79%)</tspan></text></g>
<g id="n_Context_App" class="node"><rect class="c48" x="1341" y="1394.9" width="124.7" height="59.1"/><text class="t0"><tspan x="1403.4" y="1410">caddy</tspan><tspan x="1403.4" y="1422">Context</tspan><tspan x="1403.4" y="1434">App</tspan><tspan x="1403.4" y="1446">0 of 251.53MB (4.79%)</tspan></text></g>
<g id="n_LoadModuleByID" class="node"><rect class="c48" x="1341" y="1547" width="124.7" height="59"/><text class="t0"><tspan x="1403.4" y="1562">caddy</tspan><tspan x="1403.4" y="1574">Context</tspan><tspan x="1403.4" y="1586">LoadModuleByID</tspan><tspan x="1403.4" y="1598">0 of 251.53MB (4.79%)</tspan></text></g>
<g id="n_Provision" class="node"><rect class="c48" x="1341" y="1686.6" width="124.7" height="58.8"/><text class="t0"><tspan x="1403.4" y="1701.5">cache</tspan><tspan x="1403.4" y="1713.5">(*Cache)</tspan><tspan x="1403.4" y="1725.5">Provision</tspan><tspan x="1403.4" y="1737.5">0 of 250.53MB (4.77%)</tspan></text></g>
<g id="n_NewProcessor" class="node"><rect class="c48" x="1338.3" y="1823.6" width="130" height="64.8"/><text class="t1"><tspan x="1403.3" y="1840">cacheprocessor</tspan><tspan x="1403.3" y="1853.3">NewProcessor</tspan><tspan x="1403.3" y="1866.6">16MB (0.3%)</tspan><tspan x="1403.3" y="1879.9">of 250.53MB (4.77%)</tspan></text></g>
<g id="n_Unserialize" class="node"><rect class="c44" x="1341" y="1994.5" width="124.7" height="58.7"/><text class="t0"><tspan x="1403.4" y="2009.4">cacheprocessor</tspan><tspan x="1403.4" y="2021.4">(*Entry)</tspan><tspan x="1403.4" y="2033.4">Unserialize</tspan><tspan x="1403.4" y="2045.4">0 of 231.07MB (4.40%)</tspan></text></g>
<g id="n_Decode" class="node"><rect class="c44" x="1341" y="2149" width="124.7" height="58.7"/><text class="t0"><tspan x="1403.4" y="2163.9">gob</tspan><tspan x="1403.4" y="2175.9">(*Decoder)</tspan><tspan x="1403.4" y="2187.9">Decode</tspan><tspan x="1403.4" y="2199.9">0 of 231.07MB (4.40%)</tspan></text></g>
<g id="n_DecodeValue" class="node"><rect class="c44" x="1341" y="2275.6" width="124.7" height="58.8"/><text class="t0"><tspan x="1403.4" y="2290.5">gob</tspan><tspan x="1403.4" y="2302.5">(*Decoder)</tspan><tspan x="1403.4" y="2314.5">DecodeValue</tspan><tspan x="1403.4" y="2326.5">0 of 231.07MB (4.40%)</tspan></text></g>
<g id="n_decodeValue" class="node"><rect class="c44" x="1341" y="2402.8" width="124.7" height="58.2"/><text class="t0"><tspan x="1403.4" y="2417.4">gob</tspan><tspan x="1403.4" y="2429.4">(*Decoder)</tspan><tspan x="1403.4" y="2441.4">decodeValue</tspan><tspan x="1403.4" y="2453.4">0 of 231.07MB (4.40%)</tspan></text></g>
<g id="n_decodeStruct" class="node"><rect class="c44" x="1341" y="2528.8" width="123.6" height="58.7"/><text class="t0"><tspan x="1402.8" y="2543.7">gob</tspan><tspan x="1402.8" y="2555.7">(*Decoder)</tspan><tspan x="1402.8" y="2567.7">decodeStruct</tspan><tspan x="1402.8" y="2579.7">0 of 230.07MB (4.38%)</tspan></text></g>
<g id="n_decOpFor_func2" class="node"><rect class="c35" x="1225" y="2654.5" width="124" height="71"/><text class="t0"><tspan x="1287" y="2669.5">gob</tspan><tspan x="1287" y="2681.5">(*Decoder)</tspan><tspan x="1287" y="2693.5">decOpFor</tspan><tspan x="1287" y="2705.5">func2</tspan><tspan x="1287" y="2717.5">0 of 174.06MB (3.31%)</tspan></text></g>
<g id="n_decOpFor_func4" class="node"><rect class="c35" x="1401.5" y="2654.5" width="123.5" height="71"/><text class="t0"><tspan x="1463.3" y="2669.5">gob</tspan><tspan x="1463.3" y="2681.5">(*Decoder)</tspan><tspan x="1463.3" y="2693.5">decOpFor</tspan><tspan x="1463.3" y="2705.5">func4</tspan><tspan x="1463.3" y="2717.5">0 of 191.56MB (3.64%)</tspan></text></g>
<g id="n_decAlloc" class="node"><rect class="c07" x="1575.6" y="2666.1" width="118.8" height="47.8"/><text class="t0"><tspan x="1635" y="2681.5">gob</tspan><tspan x="1635" y="2693.5">decAlloc</tspan><tspan x="1635" y="2705.5">0 of 40.01MB (0.76%)</tspan></text></g>
<g id="n_decodeMap" class="node"><rect class="c35" x="1225" y="2792.8" width="124" height="58.7"/><text class="t0"><tspan x="1287" y="2807.7">gob</tspan><tspan x="1287" y="2819.7">(*Decoder)</tspan><tspan x="1287" y="2831.7">decodeMap</tspan><tspan x="1287" y="2843.7">0 of 174.06MB (3.31%)</tspan></text></g>
<g id="n_reflect_New" class="node"><rect class="c07" x="1575.1" y="2794.8" width="119.8" height="54.4"/><text class="t2"><tspan x="1635" y="2812">reflect</tspan><tspan x="1635" y="2826.4">New</tspan><tspan x="1635" y="2840.8">40.01MB (0.76%)</tspan></text></g>
<g id="n_decodeIntoValue" class="node"><rect class="c17" x="1227.8" y="2924.1" width="118.4" height="47.9"/><text class="t0"><tspan x="1287" y="2939.6">gob</tspan><tspan x="1287" y="2951.6">decodeIntoValue</tspan><tspan x="1287" y="2963.6">0 of 80.50MB (1.53%)</tspan></text></g>
<g id="n_makemap" class="node"><rect class="c17" x="1370.8" y="2918.8" width="128.2" height="59"/><text class="t3"><tspan x="1434.9" y="2937.1">reflect</tspan><tspan x="1434.9" y="2953.1">makemap</tspan><tspan x="1434.9" y="2969.1">77.55MB (1.48%)</tspan></text></g>
<g id="n_decString" class="node"><rect class="c07" x="1088.3" y="3055.2" width="120.4" height="55.5"/><text class="t2"><tspan x="1148.5" y="3072.9">gob</tspan><tspan x="1148.5" y="3087.4">decString</tspan><tspan x="1148.5" y="3101.9">36.50MB (0.69%)</tspan></text></g>
<g id="n_decOpFor_func3" class="node"><rect class="c11" x="1239" y="3047.9" width="107" height="70.8"/><text class="t0"><tspan x="1292.5" y="3062.8">gob</tspan><tspan x="1292.5" y="3074.8">(*Decoder)</tspan><tspan x="1292.5" y="3086.8">decOpFor</tspan><tspan x="1292.5" y="3098.8">func3</tspan><tspan x="1292.5" y="3110.8">0 of 57MB (1.08%)</tspan></text></g>
<g id="n_leaf_704B_c" class="leaf"><path d="M1399,3063.5L1403.5,3059L1471.7,3059L1471.7,3102.7L1467.2,3107.2L1399,3107.2Z"/><path class="in" d="M1399,3063.5L1467.2,3063.5L1467.2,3107.2M1467.2,3063.5L1471.7,3059"/><text x="1433.1" y="3088.9" text-anchor="middle">704B</text></g>
<g id="n_decodeSlice" class="node"><rect class="c11" x="1239" y="3186.4" width="107" height="59"/><text class="t0"><tspan x="1292.5" y="3201.4">gob</tspan><tspan x="1292.5" y="3213.4">(*Decoder)</tspan><tspan x="1292.5" y="3225.4">decodeSlice</tspan><tspan x="1292.5" y="3237.4">0 of 57MB (1.08%)</tspan></text></g>
<g id="n_decodeArrayHelper" class="node"><rect class="c07" x="1239" y="3313" width="107" height="59"/><text class="t0"><tspan x="1292.5" y="3328">gob</tspan><tspan x="1292.5" y="3340">(*Decoder)</tspan><tspan x="1292.5" y="3352">decodeArrayHelper</tspan><tspan x="1292.5" y="3364">0 of 36MB (0.68%)</tspan></text></g>
<g id="n_decStringSlice" class="node"><rect class="c07" x="1241" y="3439.7" width="103" height="55.1"/><text class="t2"><tspan x="1292.5" y="3457.2">gob</tspan><tspan x="1292.5" y="3471.7">decStringSlice</tspan><tspan x="1292.5" y="3486.2">36MB (0.68%)</tspan></text></g>
</svg>
